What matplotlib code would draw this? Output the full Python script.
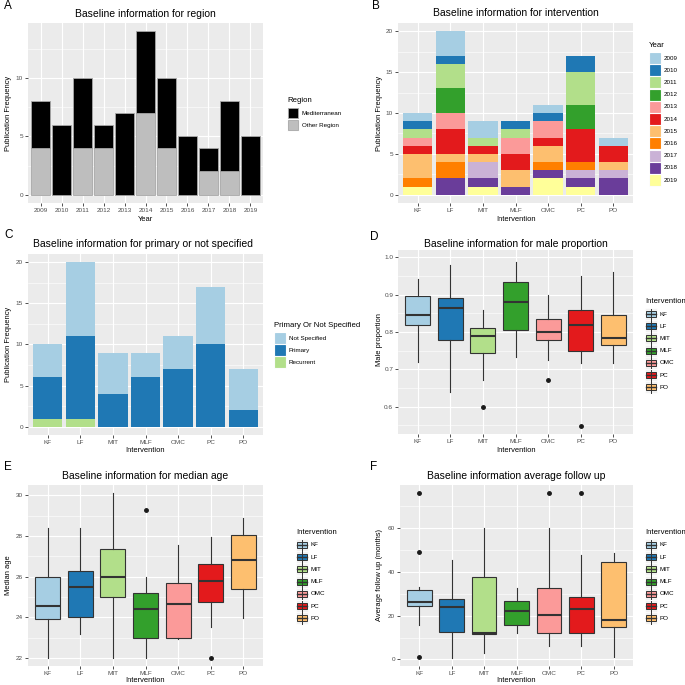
import numpy as np
import matplotlib
matplotlib.use('Agg')
import matplotlib.pyplot as plt
from matplotlib.patches import Rectangle

plt.rcParams['font.family'] = ['Liberation Sans', 'DejaVu Sans']

# ---- data ----
years = ['2009', '2010', '2011', '2012', '2013', '2014', '2015', '2016', '2017', '2018', '2019']
region_med = [4, 6, 6, 2, 7, 7, 6, 5, 2, 6, 5]
region_other = [4, 0, 4, 4, 0, 7, 4, 0, 2, 2, 0]

interventions = ['KF', 'LF', 'MIT', 'MLF', 'OMC', 'PC', 'PO']
# publications per year (rows) for each intervention (columns)
year_by_intervention = [
    [1, 3, 2, 0, 1, 0, 1],   # 2009
    [1, 1, 0, 1, 1, 2, 0],   # 2010
    [1, 3, 1, 1, 0, 4, 0],   # 2011
    [0, 3, 0, 0, 0, 3, 0],   # 2012
    [1, 2, 0, 2, 2, 0, 0],   # 2013
    [1, 3, 1, 2, 1, 4, 2],   # 2014
    [3, 1, 1, 2, 2, 0, 1],   # 2015
    [1, 2, 0, 0, 1, 1, 0],   # 2016
    [0, 0, 2, 0, 0, 1, 1],   # 2017
    [0, 2, 1, 1, 1, 1, 2],   # 2018
    [1, 0, 1, 0, 2, 1, 0],   # 2019
]

not_specified = [4, 9, 5, 3, 4, 7, 5]
primary = [5, 10, 4, 6, 7, 10, 2]
recurrent = [1, 1, 0, 0, 0, 0, 0]

male_lo = [0.720, 0.640, 0.672, 0.733, 0.724, 0.718, 0.718]
male_q1 = [0.820, 0.780, 0.745, 0.805, 0.779, 0.749, 0.766]
male_med = [0.846, 0.865, 0.789, 0.880, 0.800, 0.820, 0.783]
male_q3 = [0.896, 0.892, 0.810, 0.933, 0.836, 0.859, 0.845]
male_hi = [0.942, 0.980, 0.858, 0.987, 0.900, 0.949, 0.960]
male_out = [[], [], [0.60], [], [0.673], [0.549], []]

age_lo = [22.0, 23.17, 22.0, 22.0, 22.92, 23.5, 23.98]
age_q1 = [23.91, 24.0, 24.99, 22.99, 23.0, 24.77, 25.38]
age_med = [24.57, 25.5, 26.0, 24.39, 24.64, 25.76, 26.83]
age_q3 = [26.0, 26.26, 27.36, 25.18, 25.7, 26.62, 28.02]
age_hi = [28.37, 28.4, 30.1, 25.96, 27.53, 27.95, 28.9]
age_out = [[], [], [], [29.29], [], [22.0], []]

fu_lo = [15.9, 0.8, 3.0, 12.0, 6.0, 6.0, 0.9]
fu_q1 = [24.3, 12.4, 11.6, 15.9, 12.0, 12.0, 15.0]
fu_med = [26.1, 24.1, 12.0, 22.0, 20.5, 22.9, 18.0]
fu_q3 = [31.9, 27.8, 37.9, 26.6, 32.7, 28.4, 44.6]
fu_hi = [33.0, 45.6, 60.0, 32.7, 60.0, 48.0, 48.7]
fu_out = [[76, 49, 1.2], [], [], [], [76], [76], []]

# RColorBrewer "Paired"
paired = ['#A6CEE3', '#1F78B4', '#B2DF8A', '#33A02C', '#FB9A99', '#E31A1C',
          '#FDBF6F', '#FF7F00', '#CAB2D6', '#6A3D9A', '#FFFF99']

W = 685
fig = plt.figure(figsize=(6.85, 6.85), dpi=100)


def ax_at(x0, y0, x1, y1):
    return fig.add_axes([x0 / W, 1 - y1 / W, (x1 - x0) / W, (y1 - y0) / W])


def gg_style(ax, minor_y):
    ax.set_facecolor('#EBEBEB')
    for s in ax.spines.values():
        s.set_visible(False)
    ax.set_yticks(minor_y, minor=True)
    ax.tick_params(axis='y', which='minor', length=0)
    ax.grid(True, which='major', color='white', linewidth=0.8)
    ax.grid(True, which='minor', axis='y', color='white', linewidth=0.4)
    ax.tick_params(which='major', length=2, width=0.6, color='#333333',
                   labelsize=4.6, labelcolor='#4D4D4D', pad=1.5)
    ax.set_axisbelow(True)


def boxes(ax, lo, q1, med, q3, hi, out):
    stats = []
    for i in range(len(interventions)):
        stats.append(dict(whislo=lo[i], q1=q1[i], med=med[i], q3=q3[i],
                          whishi=hi[i], fliers=out[i]))
    pos = np.arange(len(interventions))
    bp = ax.bxp(stats, positions=pos, widths=0.76, patch_artist=True, showcaps=False,
                boxprops=dict(edgecolor='#333333', linewidth=0.8),
                whiskerprops=dict(color='#333333', linewidth=0.8),
                medianprops=dict(color='#333333', linewidth=1.5),
                flierprops=dict(marker='o', markerfacecolor='#1A1A1A', markeredgecolor='#1A1A1A',
                                markersize=2.5))
    for patch, c in zip(bp['boxes'], paired):
        patch.set_facecolor(c)
    ax.set_xlim(-0.6, len(interventions) - 0.4)
    ax.set_xticks(pos)
    ax.set_xticklabels(interventions)


x7 = np.arange(len(interventions))

# ---- A ----
axA = ax_at(28, 23, 263, 203)
xa = np.arange(len(years))
axA.bar(xa, region_other, width=0.9, color='#BEBEBE', edgecolor='#A8A8A8', linewidth=0.6)
axA.bar(xa, region_med, bottom=region_other, width=0.9, color='black', edgecolor='#A8A8A8', linewidth=0.6)
axA.set_xticks(xa)
axA.set_xticklabels(years)
axA.set_xlim(-0.6, len(years) - 0.4)
axA.set_ylim(-0.7, 14.7)
axA.set_yticks([0, 5, 10])
gg_style(axA, [2.5, 7.5, 12.5])

# ---- B ----
axB = ax_at(398, 23, 633, 203)
bottom = np.zeros(len(interventions))
for k in range(len(years) - 1, -1, -1):
    vals = np.array(year_by_intervention[k])
    axB.bar(x7, vals, bottom=bottom, width=0.9, color=paired[k], linewidth=0)
    bottom += vals
axB.set_xticks(x7)
axB.set_xticklabels(interventions)
axB.set_xlim(-0.6, len(interventions) - 0.4)
axB.set_ylim(-1, 21)
axB.set_yticks([0, 5, 10, 15, 20])
gg_style(axB, [2.5, 7.5, 12.5, 17.5])

# ---- C ----
axC = ax_at(28, 254, 263, 435)
rec = np.array(recurrent)
pri = np.array(primary)
axC.bar(x7, rec, width=0.9, color=paired[2], linewidth=0)
axC.bar(x7, pri, bottom=rec, width=0.9, color=paired[1], linewidth=0)
axC.bar(x7, not_specified, bottom=rec + pri, width=0.9, color=paired[0], linewidth=0)
axC.set_xticks(x7)
axC.set_xticklabels(interventions)
axC.set_xlim(-0.6, len(interventions) - 0.4)
axC.set_ylim(-1, 21)
axC.set_yticks([0, 5, 10, 15, 20])
gg_style(axC, [2.5, 7.5, 12.5, 17.5])

# ---- D ----
axD = ax_at(398, 250, 633, 434)
boxes(axD, male_lo, male_q1, male_med, male_q3, male_hi, male_out)
axD.set_ylim(0.527, 1.02)
axD.set_yticks([0.6, 0.7, 0.8, 0.9, 1.0])
axD.set_yticklabels(['0.6', '0.7', '0.8', '0.9', '1.0'])
gg_style(axD, [0.55, 0.65, 0.75, 0.85, 0.95])

# ---- E ----
axE = ax_at(28, 485, 263, 666)
boxes(axE, age_lo, age_q1, age_med, age_q3, age_hi, age_out)
axE.set_ylim(21.6, 30.5)
axE.set_yticks([22, 24, 26, 28, 30])
gg_style(axE, [23, 25, 27, 29])

# ---- F ----
axF = ax_at(400, 485, 633, 666)
boxes(axF, fu_lo, fu_q1, fu_med, fu_q3, fu_hi, fu_out)
axF.set_ylim(-3, 79.8)
axF.set_yticks([0, 20, 40, 60])
gg_style(axF, [10, 30, 50, 70])

# ---- overlay: letters, titles, axis titles, legends ----
ov = fig.add_axes([0, 0, 1, 1])
ov.set_xlim(0, W)
ov.set_ylim(W, 0)
ov.axis('off')

title_kw = dict(fontsize=7.5, ha='center', va='center', color='black')
lab_kw = dict(fontsize=5.4, ha='center', va='center', color='black')
letter_kw = dict(fontsize=8.5, ha='left', va='center', color='black')

for letter, x, y in [('A', 4, 6), ('B', 372, 6), ('C', 4, 235), ('D', 370, 237),
                     ('E', 4, 467), ('F', 370, 467)]:
    ov.text(x, y, letter, **letter_kw)

ov.text(145, 14, 'Baseline information for region', **title_kw)
ov.text(516, 13, 'Baseline information for intervention', **title_kw)
ov.text(143, 244, 'Baseline information for primary or not specified', **title_kw)
ov.text(516, 244, 'Baseline information for male proportion', **title_kw)
ov.text(145, 476, 'Baseline information for median age', **title_kw)
ov.text(516, 476, 'Baseline information average follow up', **title_kw)

ov.text(145, 219, 'Year', **lab_kw)
ov.text(516, 219, 'Intervention', **lab_kw)
ov.text(145, 450, 'Intervention', **lab_kw)
ov.text(516, 450, 'Intervention', **lab_kw)
ov.text(145, 681, 'Intervention', **lab_kw)
ov.text(516, 681, 'Intervention', **lab_kw)
ov.text(9, 113, 'Publication Frequency', rotation=90, **lab_kw)
ov.text(380, 113, 'Publication Frequency', rotation=90, **lab_kw)
ov.text(9, 344, 'Publication Frequency', rotation=90, **lab_kw)
ov.text(380, 340, 'Male proportion', rotation=90, **lab_kw)
ov.text(9, 575, 'Median age', rotation=90, **lab_kw)
ov.text(380, 575, 'Average follow up (months)', rotation=90, **lab_kw)


def bar_legend(x, y, title, labels, colors, step=12.2, edge=None):
    ov.text(x, y, title, fontsize=5.6, ha='left', va='center')
    for i, (lab, c) in enumerate(zip(labels, colors)):
        cy = y + 13 + i * step
        ov.add_patch(Rectangle((x, cy - 5.5), 12, 11, facecolor='#F2F2F2', edgecolor='white', lw=0.5))
        ov.add_patch(Rectangle((x + 0.6, cy - 5), 10.8, 10, facecolor=c,
                               edgecolor=edge if edge else c, lw=0.6))
        ov.text(x + 15, cy, lab, fontsize=4.5, ha='left', va='center', color='black')


def box_legend(x, y, title, labels, colors, step=12.2):
    ov.text(x, y, title, fontsize=5.6, ha='left', va='center')
    for i, (lab, c) in enumerate(zip(labels, colors)):
        cy = y + 13 + i * step
        ov.add_patch(Rectangle((x, cy - 6), 12, 12, facecolor='#F2F2F2', edgecolor='white', lw=0.5))
        ov.plot([x + 6, x + 6], [cy - 5.5, cy + 5.5], color='#333333', lw=0.7)
        ov.add_patch(Rectangle((x + 1.3, cy - 3), 9.4, 6, facecolor=c, edgecolor='#333333', lw=0.7))
        ov.plot([x + 1.3, x + 10.7], [cy, cy], color='#333333', lw=1.0)
        ov.text(x + 15, cy, lab, fontsize=4.5, ha='left', va='center', color='black')


bar_legend(287, 100, 'Region', ['Mediterranean', 'Other Region'], ['black', '#BEBEBE'], edge='#A8A8A8')
bar_legend(649, 45, 'Year', years, paired)
bar_legend(274, 325, 'Primary Or Not Specified', ['Not Specified', 'Primary', 'Recurrent'], paired[:3])
box_legend(645, 301, 'Intervention', interventions, paired)
box_legend(296, 532, 'Intervention', interventions, paired)
box_legend(645, 532, 'Intervention', interventions, paired)

fig.savefig('out.png', dpi=100, facecolor='white')
